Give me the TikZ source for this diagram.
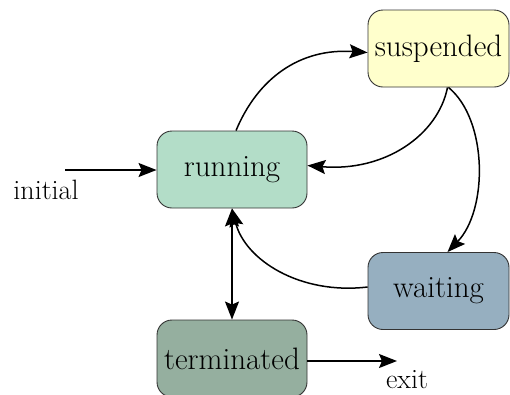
\documentclass[tikz,border=0pt]{standalone}
\usetikzlibrary{arrows.meta}
\definecolor{runfill}{HTML}{B3DDC8}
\definecolor{susfill}{HTML}{FFFFCC}
\definecolor{waitfill}{HTML}{96AFC0}
\definecolor{termfill}{HTML}{95AF9F}
\definecolor{edgegray}{HTML}{333333}
\begin{document}
\begin{tikzpicture}[x=1pt,y=-1pt,
  state/.style={draw=edgegray,line width=0.9pt,rounded corners=15pt,minimum height=77pt,inner sep=0pt,font=\fontsize{31}{34}\selectfont},
  lbl/.style={inner sep=0pt,font=\fontsize{28}{31}\selectfont},
  arr/.style={line width=1.5pt,-{Stealth[length=18pt,width=14pt,inset=3pt]}},
  darr/.style={line width=1.5pt,{Stealth[length=18pt,width=14pt,inset=3pt]}-{Stealth[length=18pt,width=14pt,inset=3pt]}}]
\useasboundingbox (0,0) rectangle (510,394);
\clip (0,0) rectangle (510,394);
\node[state,fill=runfill,minimum width=150pt] (running) at (232,169.5) {running};
\node[state,fill=susfill,minimum width=141pt] (suspended) at (438.5,48.5) {suspended};
\node[state,fill=waitfill,minimum width=141pt] (waiting) at (438.5,291) {waiting};
\node[state,fill=termfill,minimum width=150pt] (terminated) at (232,358.5) {terminated};
\coordinate (init) at (65,170);
\coordinate (exitpt) at (397,361);
\node[lbl] (initlbl) at (46,190) {initial};
\node[lbl] (exitlbl) at (407,380) {exit};
\draw[arr] (init) -- (running.west |- init);
\draw[arr] (terminated.east |- exitpt) -- (exitpt);
\draw[arr] ([xshift=4pt]running.north) .. controls (258,78) and (300,48) .. ([yshift=-4pt]suspended.west);
\draw[arr] ([xshift=9pt]suspended.south) .. controls (438,135) and (385,172) .. ([yshift=4pt]running.east);
\draw[arr] ([xshift=10pt]suspended.south) .. controls (488,120) and (488,210) .. ([xshift=9pt]waiting.north);
\draw[arr] ([yshift=4pt]waiting.west) .. controls (300,295) and (245,260) .. (running.south);
\draw[darr] (running.south) -- (terminated.north);
\end{tikzpicture}
\end{document}
